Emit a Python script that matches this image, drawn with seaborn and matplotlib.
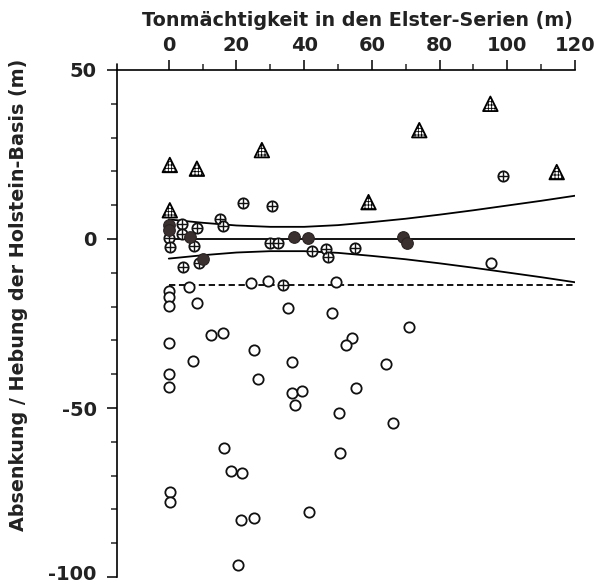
import matplotlib
matplotlib.use("Agg")
import matplotlib.pyplot as plt
import matplotlib.transforms as mtrans
import seaborn as sns
import numpy as np

# ---- data ----
tri_x = [0.3, 8.3, 27.5, 0.3, 59.0, 74.0, 95.0, 114.6]
tri_y = [21.9, 20.8, 26.3, 8.5, 10.9, 32.2, 40.0, 19.8]

filled_x = [0.0, 0.0, 6.2, 10.0, 37.0, 41.0, 69.1, 70.3]
filled_y = [4.2, 2.6, 0.6, -5.8, 0.6, 0.3, 0.6, -1.2]

plus_x = [0.0, 0.5, 4.0, 4.0, 8.3, 7.3, 4.1, 8.9, 15.0, 16.0, 22.0, 30.4,
          29.8, 32.2, 42.2, 46.4, 47.0, 55.0, 98.7, 33.7]
plus_y = [0.3, -2.4, 4.5, 1.5, 3.2, -2.2, -8.3, -7.1, 6.0, 3.8, 10.7, 9.8,
          -1.2, -1.2, -3.6, -3.0, -5.3, -2.7, 18.6, -13.6]

open_x = [0.0, 0.0, 0.0, 5.9, 8.3, 24.2, 29.2, 49.3, 35.2, 48.2, 12.4, 16.0,
          0.0, 25.1, 7.1, 36.3, 54.0, 52.3, 0.0, 0.0, 26.3, 36.3, 39.3, 37.2,
          50.2, 55.2, 70.9, 64.1, 66.2, 50.5, 95.1, 16.2, 18.3, 21.6, 0.3, 0.3,
          21.3, 25.1, 41.4, 20.4]
open_y = [-15.5, -17.3, -19.8, -14.2, -18.9, -13.0, -12.4, -12.7, -20.4, -21.9,
          -28.4, -27.8, -30.8, -32.8, -36.0, -36.4, -29.3, -31.4, -40.0, -43.8,
          -41.4, -45.6, -45.0, -49.1, -51.5, -44.0, -26.0, -37.0, -54.4, -63.3,
          -7.1, -61.8, -68.6, -69.2, -74.9, -77.8, -83.1, -82.5, -80.8, -96.4]

# regression line and confidence band (read at every 10 m)
band_x = [0, 10, 20, 30, 40, 50, 60, 70, 80, 90, 100, 110, 120]
band_upper = [5.8, 4.8, 4.0, 3.6, 3.6, 4.1, 5.0, 6.0, 7.2, 8.5, 9.9, 11.3, 12.8]
band_lower = [-5.8, -4.8, -4.0, -3.6, -3.6, -4.1, -5.0, -6.0, -7.2, -8.5, -9.9, -11.3, -12.8]
fit_x = [0, 120]
fit_y = [0.0, 0.0]
dash_x = [0, 120]
dash_y = [-13.6, -13.6]

xticks = [0, 20, 40, 60, 80, 100, 120]
yticks = [-100, -50, 0, 50]
xlabel = "Tonmächtigkeit in den Elster-Serien (m)"
ylabel = "Absenkung / Hebung der Holstein-Basis (m)"

# ---- style ----
sns.set_style("ticks")
plt.rcParams['font.family'] = ['DejaVu Sans']
plt.rcParams['font.weight'] = 'bold'
plt.rcParams['hatch.linewidth'] = 0.6
plt.rcParams['axes.unicode_minus'] = False

fig = plt.figure(figsize=(5.95, 5.84), dpi=100)
ax = fig.add_axes([117 / 595, 7 / 584, 458 / 595, 507 / 584])

lw = 1.3
sns.lineplot(x=band_x, y=band_upper, color='black', lw=lw, ax=ax, zorder=1)
sns.lineplot(x=band_x, y=band_lower, color='black', lw=lw, ax=ax, zorder=1)
sns.lineplot(x=fit_x, y=fit_y, color='black', lw=lw, ax=ax, zorder=1)
sns.lineplot(x=dash_x, y=dash_y, color='black', lw=lw, ax=ax, zorder=1,
             linestyle=(0, (3.5, 2.0)))

sns.scatterplot(x=open_x, y=open_y, marker='o', s=55, facecolor='white',
                edgecolor='#111111', linewidth=1.3, ax=ax, zorder=3)
sns.scatterplot(x=plus_x, y=plus_y, marker='o', s=55, facecolor='white',
                edgecolor='#111111', linewidth=1.3, ax=ax, zorder=3)
sns.scatterplot(x=plus_x, y=plus_y, marker='+', s=55, color='#111111',
                linewidth=1.0, ax=ax, zorder=4)
sns.scatterplot(x=filled_x, y=filled_y, marker='o', s=70, color='#3a3030',
                edgecolor='#2a2222', linewidth=0.8, ax=ax, zorder=5)
sns.scatterplot(x=tri_x, y=tri_y, marker='^', s=110, facecolor='white',
                edgecolor='black', linewidth=1.3, hatch='+++++', ax=ax, zorder=6)

ax.set_xlim(-15.3, 120)
ax.set_ylim(-100, 50)

for s in ['bottom', 'right']:
    ax.spines[s].set_visible(False)
for s in ['top', 'left']:
    ax.spines[s].set_linewidth(1.2)
    ax.spines[s].set_color('black')

ax.xaxis.tick_top()
ax.xaxis.set_label_position('top')
ax.set_xticks(xticks)
ax.set_xticks(np.arange(10, 120, 20), minor=True)
ax.set_yticks(yticks)
ax.set_yticks([v for v in range(-90, 50, 10) if v % 50 != 0], minor=True)
ax.set_xticklabels([str(v) for v in xticks])
ax.set_yticklabels([str(v) for v in yticks])

ax.tick_params(axis='x', which='major', direction='out', length=7.5, width=1.1,
               pad=3, labelsize=14, colors='black')
ax.tick_params(axis='x', which='minor', direction='out', length=4, width=1.1)
ax.tick_params(axis='y', which='major', direction='out', length=7.5, width=1.1,
               pad=7, labelsize=14, colors='black')
ax.tick_params(axis='y', which='minor', direction='out', length=4, width=1.1)
for lab in ax.get_xticklabels() + ax.get_yticklabels():
    lab.set_fontweight('bold')
    lab.set_color('#222222')

# nudge the bottom label up so it stays inside the canvas
ylabs = ax.get_yticklabels()
ylabs[0].set_transform(ylabs[0].get_transform() +
                       mtrans.ScaledTranslation(0, 3 / 72, fig.dpi_scale_trans))

ax.set_xlabel(xlabel, fontsize=13.8, fontweight='bold', color='#222222')
ax.set_ylabel(ylabel, fontsize=13.8, fontweight='bold', color='#222222')
ax.xaxis.set_label_coords(0.524, 1.087)
ax.yaxis.set_label_coords(-0.194, 0.556)

# small extension of the left axis above the top axis
ax.plot([0, 0], [1.0, 1.012], transform=ax.transAxes, color='black',
        lw=1.2, clip_on=False)

fig.savefig("out.png", dpi=100, facecolor='white')
